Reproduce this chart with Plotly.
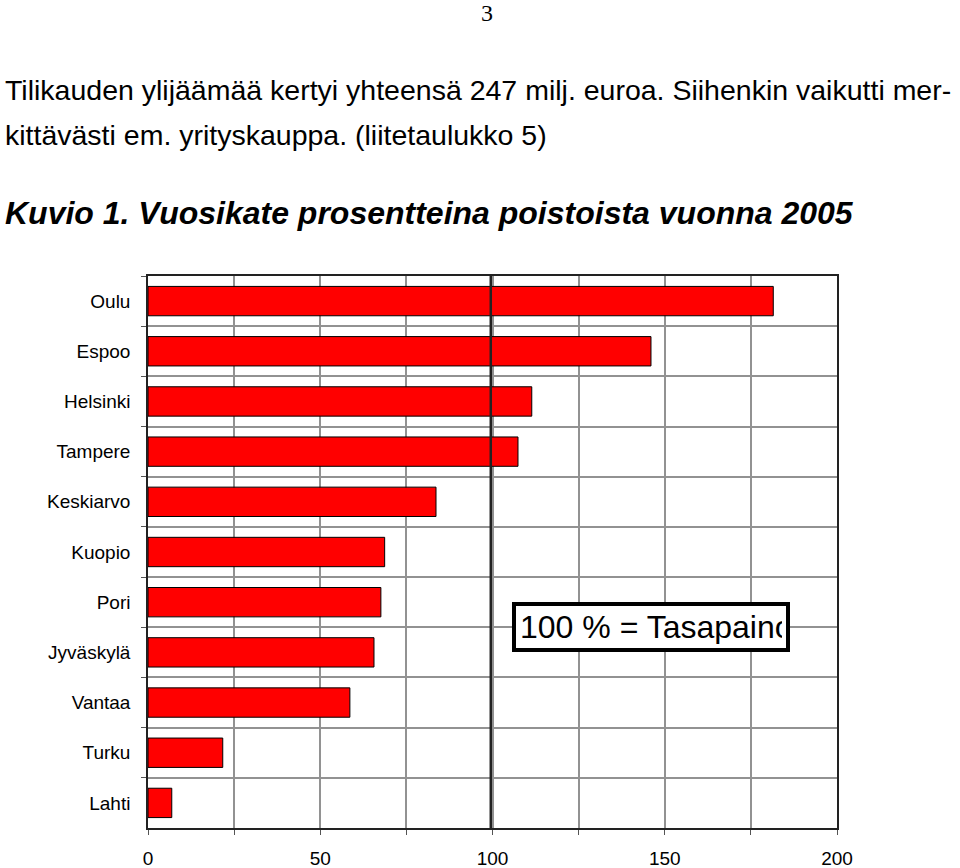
import plotly.graph_objects as go

cities = ["Oulu", "Espoo", "Helsinki", "Tampere", "Keskiarvo", "Kuopio",
          "Pori", "Jyväskylä", "Vantaa", "Turku", "Lahti"]
values = [181.5, 146.0, 111.4, 107.4, 83.6, 68.7, 67.6, 65.6, 58.6, 21.7, 6.9]
x_tickvals = [0, 25, 50, 75, 100, 125, 150, 175, 200]
x_ticktext = ["0", "", "50", "", "100", "", "150", "", "200"]

FONT = "Liberation Sans, Arial, sans-serif"

fig = go.Figure()
fig.add_trace(go.Bar(
    x=values, y=cities, orientation="h",
    marker=dict(color="#FF0000", line=dict(color="#000000", width=1)),
    hoverinfo="x+y",
))

L, R, T, B = 148, 123, 276, 40
W, H = 960, 868
pw, ph = W - L - R, H - T - B

def px(xp):
    return (xp - L) / pw

def py(yp):
    return (H - B - yp) / ph

fig.update_layout(
    width=W, height=H,
    margin=dict(l=L, r=R, t=T, b=B, pad=0),
    paper_bgcolor="white", plot_bgcolor="white",
    bargap=0.415,
    showlegend=False,
    font=dict(family=FONT, color="black", size=19),
    xaxis=dict(
        range=[0, 200], tickvals=x_tickvals, ticktext=x_ticktext,
        showgrid=True, gridcolor="#929292", gridwidth=1.5,
        showline=True, linecolor="#222222", linewidth=1.5, mirror=True,
        ticks="outside", ticklen=5, tickcolor="#555555", tickwidth=1,
        ticklabelstandoff=7, automargin=False,
        tickfont=dict(size=19, family=FONT, color="black"),
        zeroline=False, fixedrange=True,
    ),
    yaxis=dict(
        autorange="reversed", type="category",
        tickson="boundaries",
        showgrid=True, gridcolor="#929292", gridwidth=1.5,
        showline=True, linecolor="#222222", linewidth=1.5, mirror=True,
        ticks="outside", ticklen=5, tickcolor="#555555", tickwidth=1,
        ticklabelstandoff=12, automargin=False,
        tickfont=dict(size=19, family=FONT, color="black"),
        fixedrange=True,
    ),
)

# 100 % reference line
fig.add_shape(type="line", xref="x", yref="paper", x0=99.5, x1=99.5, y0=0, y1=1,
              line=dict(color="#222222", width=2.5))

# page number
fig.add_annotation(text="3", xref="paper", yref="paper", x=px(487), y=py(13),
                   xanchor="center", yanchor="middle", showarrow=False,
                   font=dict(family="Liberation Serif, Times New Roman, serif", size=24))
# body text
fig.add_annotation(text="Tilikauden ylijäämää kertyi yhteensä 247 milj. euroa. Siihenkin vaikutti mer-",
                   xref="paper", yref="paper", x=px(3), y=py(90),
                   xanchor="left", yanchor="middle", showarrow=False,
                   font=dict(family=FONT, size=28.5))
fig.add_annotation(text="kittävästi em. yrityskauppa. (liitetaulukko 5)",
                   xref="paper", yref="paper", x=px(3), y=py(135),
                   xanchor="left", yanchor="middle", showarrow=False,
                   font=dict(family=FONT, size=28.5))
# figure title
fig.add_annotation(text="<b><i>Kuvio 1. Vuosikate prosentteina poistoista vuonna 2005</i></b>",
                   xref="paper", yref="paper", x=px(3), y=py(213),
                   xanchor="left", yanchor="middle", showarrow=False,
                   font=dict(family=FONT, size=32))
# balance note box
fig.add_annotation(text="100 % = Tasapaino",
                   xref="paper", yref="paper", x=px(512), y=py(626.5),
                   xanchor="left", yanchor="middle", showarrow=False,
                   width=262, height=34, align="left", valign="middle",
                   bgcolor="white", bordercolor="black", borderwidth=4, borderpad=4,
                   font=dict(family=FONT, size=32))

fig.write_html("out.html")
